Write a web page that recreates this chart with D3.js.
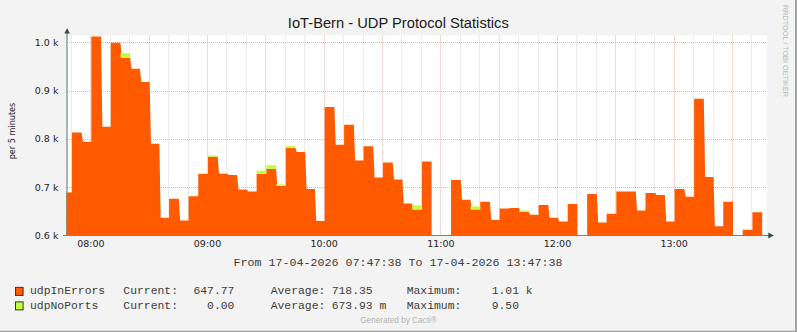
<!DOCTYPE html>
<html>
<head>
<meta charset="utf-8">
<script src="https://cdn.jsdelivr.net/npm/d3@7"></script>
<style>
  html, body { margin: 0; padding: 0; background: #f3f3f3; }
  svg { display: block; }
</style>
</head>
<body>
<svg id="chart" width="797" height="332"></svg>
<script>
// ---- data -------------------------------------------------------------
const titleText = "IoT-Bern - UDP Protocol Statistics";
const yAxisTitle = "per 5 minutes";
const rangeStart = "2026-04-17T07:47:38";
const rangeEnd = "2026-04-17T13:47:38";
const firstBucketStart = "2026-04-17T07:45:30";   // 5-minute consolidation buckets
const stepMinutes = 5;

// udpInErrors per 5 minutes (null = unknown)
const udpInErrors = [
  689, 813, 794, 1012, 825, 999, 968, 945, 918, 790,
  637, 676, 631, 681, 728, 763, 728, 725, 695, 691,
  728, 738, 703, 781, 773, 696, 630, 866, 788, 829,
  755, 785, 720, 751, 716, 666, 654, 753, null, null,
  715, 674, 654, 670, 632, 656, 657, 649, 643, 663,
  637, 629, 665, null, 686, 627, 645, 691, 691, 652,
  688, 684, 629, 696, 680, 883, 721, 619, 670, null,
  612, 648
];
// udpNoPorts per 5 minutes, stacked on top of udpInErrors
const udpNoPorts = [
  0, 0, 0, 0, 0, 0, 9.5, 0, 0, 0,
  0, 0, 0, 0, 0, 2.8, 0, 0, 0, 0,
  6.2, 7.6, 2.8, 4.1, 0, 0, 0, 0, 0, 0,
  0, 0, 0, 0, 0, 0, 8.3, 0, 0, 0,
  0, 0, 6.2, 0, 0, 0, 0, 2.8, 0, 0,
  0, 0, 0, 0, 0, 0, 0, 0, 0, 0,
  0, 0, 0, 0, 0, 0, 0, 0, 0, 0,
  0, 0
];

const yTicks = [600, 700, 800, 900, 1000];
const yTickLabels = ["0.6 k", "0.7 k", "0.8 k", "0.9 k", "1.0 k"];
const xLabelHours = ["08:00", "09:00", "10:00", "11:00", "12:00", "13:00"];

const legendNames = ["udpInErrors", "udpNoPorts"];
const legendColors = ["#FF5A00", "#C4FD3D"];
const legendCurrent = ["647.77", "0.00"];
const legendAverage = ["718.35", "673.93 m"];
const legendMaximum = ["1.01 k", "9.50"];

const periodText = "From 17-04-2026 07:47:38 To 17-04-2026 13:47:38";
const watermark = "RRDTOOL / TOBI OETIKER";
const footer = "Generated by Cacti\u00AE";

// ---- layout -----------------------------------------------------------
const svg = d3.select("#chart");
const W = 797, H = 332;
const plot = { left: 66.3, right: 766.3, top: 35.5, bottom: 235.5 };
const parse = d3.timeParse("%Y-%m-%dT%H:%M:%S");
const t0 = parse(rangeStart), t1 = parse(rangeEnd);
const bucket0 = parse(firstBucketStart);

const x = d3.scaleTime().domain([t0, t1]).range([plot.left, plot.right]);
const y = d3.scaleLinear().domain([600, 1014]).range([plot.bottom, plot.top]);

const sansUI = "'DejaVu Sans', sans-serif";
const sansTitle = "'Liberation Sans', Arial, sans-serif";
const mono = "'Liberation Mono', 'DejaVu Sans Mono', monospace";

// frame
svg.append("rect").attr("x", 0).attr("y", 0).attr("width", W).attr("height", H).attr("fill", "#f3f3f3");
svg.append("rect").attr("x", W - 2).attr("y", 0).attr("width", 2).attr("height", H).attr("fill", "#a3a3a3");
svg.append("rect").attr("x", 0).attr("y", H - 1.3).attr("width", W).attr("height", 1.3).attr("fill", "#a3a3a3");

// canvas
svg.append("rect")
  .attr("x", 67).attr("y", plot.top)
  .attr("width", plot.right + 0.4 - 67).attr("height", plot.bottom - plot.top)
  .attr("fill", "#ffffff");

// title
svg.append("text")
  .attr("x", 398.3).attr("y", 28.2)
  .attr("text-anchor", "middle")
  .attr("font-family", sansTitle).attr("font-size", "14.7px")
  .attr("fill", "#1a1a1a")
  .text(titleText);

// ---- grid -------------------------------------------------------------
const gridG = svg.append("g");
const tenMin = d3.timeMinute.every(10).range(t0, t1);
tenMin.forEach(t => {
  const major = t.getMinutes() % 30 === 0;
  gridG.append("line")
    .attr("x1", Math.round(x(t)) + 0.5).attr("x2", Math.round(x(t)) + 0.5)
    .attr("y1", plot.top).attr("y2", plot.bottom)
    .attr("stroke", major ? "#f1adad" : "#d6d6d6")
    .attr("stroke-width", 1)
    .attr("stroke-dasharray", "1,1");
});
yTicks.filter(v => v > 600).forEach(v => {
  gridG.append("line")
    .attr("x1", 67).attr("x2", plot.right + 0.4)
    .attr("y1", Math.round(y(v)) + 0.5).attr("y2", Math.round(y(v)) + 0.5)
    .attr("stroke", "#f1adad")
    .attr("stroke-width", 1)
    .attr("stroke-dasharray", "1,1");
});

// ---- series -----------------------------------------------------------
const stepMs = stepMinutes * 60 * 1000;
const buckets = udpInErrors.map((v, i) => {
  const s = new Date(bucket0.getTime() + i * stepMs);
  const e = new Date(bucket0.getTime() + (i + 1) * stepMs);
  return {
    start: s < t0 ? t0 : s,
    end: e > t1 ? t1 : e,
    errors: v,
    noPorts: udpNoPorts[i]
  };
});

// udpInErrors drawn as a stepped area, one path per run of known values
const runs = [];
let cur = [];
buckets.forEach(b => {
  if (b.errors == null) { if (cur.length) runs.push(cur); cur = []; }
  else cur.push(b);
});
if (cur.length) runs.push(cur);

const slope = 1.3;   // soft falling edge of each step
const areaG = svg.append("g");
runs.forEach(run => {
  const p = d3.path();
  const xs = run[0].start;
  p.moveTo(x(xs), y(600));
  p.lineTo(x(xs), y(run[0].errors));
  run.forEach((b, k) => {
    const xa = x(b.start), xb = x(b.end);
    if (k > 0) {
      const prev = run[k - 1];
      if (b.errors < prev.errors) p.lineTo(xa + slope, y(b.errors));
      else { p.lineTo(xa, y(b.errors)); }
    }
    p.lineTo(xb, y(b.errors));
  });
  const last = run[run.length - 1];
  p.lineTo(x(last.end), y(600));
  p.closePath();
  areaG.append("path").attr("d", p.toString()).attr("fill", legendColors[0]);
});

// udpNoPorts stacked on top
areaG.selectAll("rect.np")
  .data(buckets.filter(b => b.errors != null && b.noPorts > 0))
  .join("rect")
  .attr("class", "np")
  .attr("x", b => x(b.start))
  .attr("width", b => x(b.end) - x(b.start))
  .attr("y", b => y(b.errors + b.noPorts))
  .attr("height", b => y(b.errors) - y(b.errors + b.noPorts))
  .attr("fill", legendColors[1]);

// ---- axes -------------------------------------------------------------
const axisColor = "#6b8a80";
const arrowColor = "#2f5045";

const yAxis = d3.axisLeft(y)
  .tickValues(yTicks)
  .tickFormat((d, i) => yTickLabels[i])
  .tickSize(0).tickPadding(8.6);
const yG = svg.append("g").attr("transform", "translate(67,0)").call(yAxis);
yG.select(".domain").remove();
yG.selectAll("text")
  .attr("font-family", sansUI).attr("font-size", "9.5px").attr("fill", "#222");

const hourDates = xLabelHours.map(h => parse("2026-04-17T" + h + ":00"));
const xAxis = d3.axisBottom(x)
  .tickValues(hourDates)
  .tickFormat(d3.timeFormat("%H:%M"))
  .tickSize(0).tickPadding(4.5);
const xG = svg.append("g").attr("transform", `translate(0,${plot.bottom})`).call(xAxis);
xG.select(".domain").remove();
xG.selectAll("text")
  .attr("font-family", sansUI).attr("font-size", "9.5px").attr("fill", "#222");

// axis lines with arrows
svg.append("line")
  .attr("x1", 67).attr("x2", 67).attr("y1", 33).attr("y2", plot.bottom + 0.5)
  .attr("stroke", axisColor).attr("stroke-width", 1.2);
svg.append("line")
  .attr("x1", 63).attr("x2", 769).attr("y1", plot.bottom).attr("y2", plot.bottom)
  .attr("stroke", axisColor).attr("stroke-width", 1.2);
svg.append("path").attr("d", "M64.3,33.6 L69.9,33.6 L67.1,28.2 Z").attr("fill", arrowColor);
svg.append("path").attr("d", `M768.3,${plot.bottom - 2.9} L768.3,${plot.bottom + 2.9} L773.8,${plot.bottom} Z`).attr("fill", arrowColor);

// y axis title
svg.append("text")
  .attr("transform", "translate(14.8,131) rotate(-90)")
  .attr("text-anchor", "middle")
  .attr("font-family", sansUI).attr("font-size", "8.4px").attr("fill", "#222")
  .attr("textLength", 56.7).attr("lengthAdjust", "spacingAndGlyphs")
  .text(yAxisTitle);

// vertical watermark
svg.append("text")
  .attr("transform", "translate(783.4,5) rotate(90)")
  .attr("font-family", sansTitle).attr("font-size", "7.2px").attr("fill", "#b8b8b8")
  .attr("textLength", 92).attr("lengthAdjust", "spacingAndGlyphs")
  .text(watermark);

// ---- period and legend -----------------------------------------------
svg.append("text")
  .attr("x", 233.6).attr("y", 265.6)
  .attr("font-family", mono).attr("font-size", "11.4px").attr("fill", "#3c3c3c")
  .attr("textLength", 329).attr("lengthAdjust", "spacingAndGlyphs")
  .text(periodText);

const rowBaselines = [294.2, 308.7];
const legendG = svg.append("g")
  .attr("font-family", mono).attr("font-size", "11.4px").attr("fill", "#3c3c3c");
legendNames.forEach((name, i) => {
  const yb = rowBaselines[i];
  legendG.append("rect")
    .attr("x", 15.5).attr("y", yb - 6.8).attr("width", 7.6).attr("height", 8)
    .attr("fill", legendColors[i]).attr("stroke", "#2b3b35").attr("stroke-width", 1);
  legendG.append("text").attr("x", 30).attr("y", yb).text(name);
  legendG.append("text").attr("x", 123.3).attr("y", yb).text("Current:");
  legendG.append("text").attr("x", 234.4).attr("y", yb).attr("text-anchor", "end").text(legendCurrent[i]);
  legendG.append("text").attr("x", 270.7).attr("y", yb).text("Average:");
  legendG.append("text").attr("x", 331.7).attr("y", yb).text(legendAverage[i]);
  legendG.append("text").attr("x", 406.7).attr("y", yb).text("Maximum:");
  legendG.append("text").attr("x", 491.7).attr("y", yb).text(legendMaximum[i]);
});

svg.append("text")
  .attr("x", 398.5).attr("y", 323.4)
  .attr("text-anchor", "middle")
  .attr("font-family", sansTitle).attr("font-size", "8.2px").attr("fill", "#b3b3b3")
  .text(footer);
</script>
</body>
</html>
